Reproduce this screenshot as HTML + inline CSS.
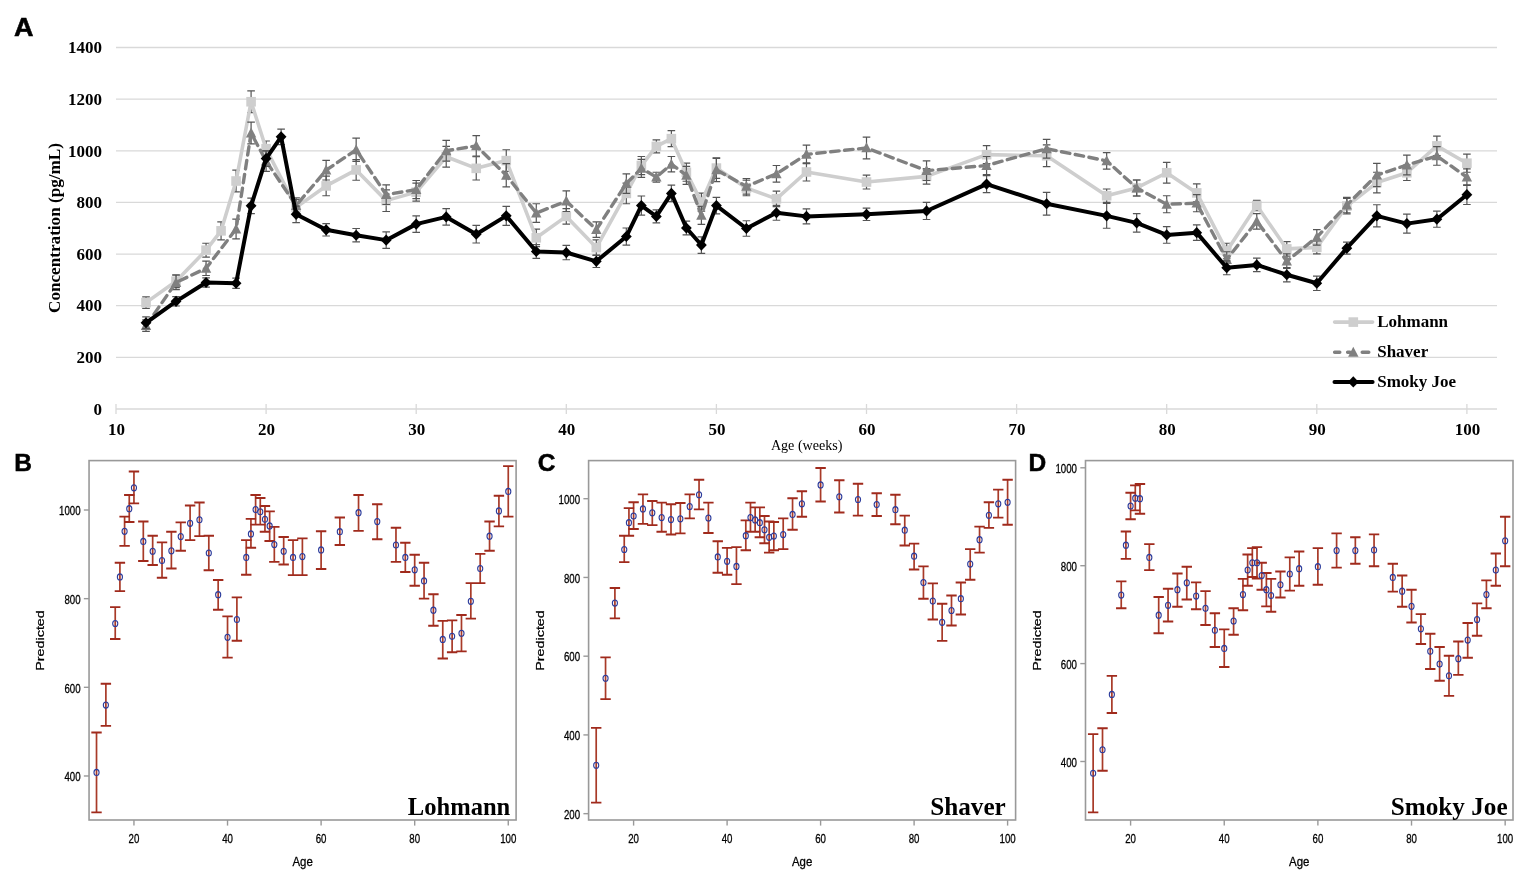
<!DOCTYPE html>
<html lang="en">
<head>
<meta charset="utf-8">
<title>Figure: Concentration by age for Lohmann, Shaver and Smoky Joe</title>
<style>
html,body{margin:0;padding:0;background:#ffffff;}
body{width:1535px;height:890px;overflow:hidden;}
svg{display:block;}
text{fill:#000;}
.sb{font-family:"Liberation Serif","Times New Roman",serif;font-weight:bold;font-size:17px;}
.sr{font-family:"Liberation Serif","Times New Roman",serif;font-size:14.1px;}
.pl{font-family:"Liberation Sans",Arial,sans-serif;font-weight:bold;font-size:24.5px;stroke:#000;stroke-width:0.5px;}
.tk{font-family:"Liberation Sans",Arial,sans-serif;font-size:13px;stroke:#000;stroke-width:0.3px;}
.nm{font-family:"Liberation Serif","Times New Roman",serif;font-weight:bold;font-size:24.6px;}
</style>
</head>
<body>
<svg width="1535" height="890" viewBox="0 0 1535 890">
<rect width="1535" height="890" fill="#ffffff"/>
<text class="pl" transform="translate(14.1,35.6) scale(1.08,1)" style="font-size:25px">A</text>
<g id="panelA">
<line x1="116" x2="1497" y1="357.36" y2="357.36" stroke="#d9d9d9" stroke-width="1.3"/>
<line x1="116" x2="1497" y1="305.72" y2="305.72" stroke="#d9d9d9" stroke-width="1.3"/>
<line x1="116" x2="1497" y1="254.08" y2="254.08" stroke="#d9d9d9" stroke-width="1.3"/>
<line x1="116" x2="1497" y1="202.44" y2="202.44" stroke="#d9d9d9" stroke-width="1.3"/>
<line x1="116" x2="1497" y1="150.8" y2="150.8" stroke="#d9d9d9" stroke-width="1.3"/>
<line x1="116" x2="1497" y1="99.16" y2="99.16" stroke="#d9d9d9" stroke-width="1.3"/>
<line x1="116" x2="1497" y1="47.52" y2="47.52" stroke="#d9d9d9" stroke-width="1.3"/>
<line x1="116" x2="1497" y1="409" y2="409" stroke="#d9d9d9" stroke-width="1.3"/>
<line x1="116" x2="116" y1="404" y2="414" stroke="#d9d9d9" stroke-width="1.3"/>
<line x1="266.1" x2="266.1" y1="404" y2="414" stroke="#d9d9d9" stroke-width="1.3"/>
<line x1="416.2" x2="416.2" y1="404" y2="414" stroke="#d9d9d9" stroke-width="1.3"/>
<line x1="566.3" x2="566.3" y1="404" y2="414" stroke="#d9d9d9" stroke-width="1.3"/>
<line x1="716.4" x2="716.4" y1="404" y2="414" stroke="#d9d9d9" stroke-width="1.3"/>
<line x1="866.5" x2="866.5" y1="404" y2="414" stroke="#d9d9d9" stroke-width="1.3"/>
<line x1="1016.6" x2="1016.6" y1="404" y2="414" stroke="#d9d9d9" stroke-width="1.3"/>
<line x1="1166.7" x2="1166.7" y1="404" y2="414" stroke="#d9d9d9" stroke-width="1.3"/>
<line x1="1316.8" x2="1316.8" y1="404" y2="414" stroke="#d9d9d9" stroke-width="1.3"/>
<line x1="1466.9" x2="1466.9" y1="404" y2="414" stroke="#d9d9d9" stroke-width="1.3"/>
<text class="sb" x="102" y="414.7" text-anchor="end">0</text>
<text class="sb" x="102" y="363.06" text-anchor="end">200</text>
<text class="sb" x="102" y="311.42" text-anchor="end">400</text>
<text class="sb" x="102" y="259.78" text-anchor="end">600</text>
<text class="sb" x="102" y="208.14" text-anchor="end">800</text>
<text class="sb" x="102" y="156.5" text-anchor="end">1000</text>
<text class="sb" x="102" y="104.86" text-anchor="end">1200</text>
<text class="sb" x="102" y="53.22" text-anchor="end">1400</text>
<text class="sb" x="116.5" y="435" text-anchor="middle">10</text>
<text class="sb" x="266.6" y="435" text-anchor="middle">20</text>
<text class="sb" x="416.7" y="435" text-anchor="middle">30</text>
<text class="sb" x="566.8" y="435" text-anchor="middle">40</text>
<text class="sb" x="716.9" y="435" text-anchor="middle">50</text>
<text class="sb" x="867" y="435" text-anchor="middle">60</text>
<text class="sb" x="1017.1" y="435" text-anchor="middle">70</text>
<text class="sb" x="1167.2" y="435" text-anchor="middle">80</text>
<text class="sb" x="1317.3" y="435" text-anchor="middle">90</text>
<text class="sb" x="1467.4" y="435" text-anchor="middle">100</text>
<text class="sb" transform="translate(59.6,228) rotate(-90)" text-anchor="middle" textLength="170" lengthAdjust="spacingAndGlyphs">Concentration (pg/mL)</text>
<text class="sr" x="806.7" y="449.7" text-anchor="middle">Age (weeks)</text>
<path d="M146.02 296.94V308.3M142.22 296.94H149.82M142.22 308.3H149.82M176.04 274.74V287.65M172.24 274.74H179.84M172.24 287.65H179.84M206.06 243.24V257.18M202.26 243.24H209.86M202.26 257.18H209.86M221.07 221.81V239.88M217.27 221.81H224.87M217.27 239.88H224.87M236.08 170.17V191.85M232.28 170.17H239.88M232.28 191.85H239.88M251.09 90.9V112.59M247.29 90.9H254.89M247.29 112.59H254.89M266.1 140.99V156.48M262.3 140.99H269.9M262.3 156.48H269.9M296.12 199.6V215.09M292.32 199.6H299.92M292.32 215.09H299.92M326.14 176.1V195.73M322.34 176.1H329.94M322.34 195.73H329.94M356.16 159.58V180.23M352.36 159.58H359.96M352.36 180.23H359.96M386.18 189.79V211.48M382.38 189.79H389.98M382.38 211.48H389.98M416.2 183.08V201.15M412.4 183.08H420M412.4 201.15H420M446.22 146.41V167.07M442.42 146.41H450.02M442.42 167.07H450.02M476.24 156.74V179.98M472.44 156.74H480.04M472.44 179.98H480.04M506.26 149.77V171.46M502.46 149.77H510.06M502.46 171.46H510.06M536.28 229.03V246.59M532.48 229.03H540.08M532.48 246.59H540.08M566.3 208.64V224.13M562.5 208.64H570.1M562.5 224.13H570.1M596.32 239.88V255.37M592.52 239.88H600.12M592.52 255.37H600.12M626.34 183.08V203.73M622.54 183.08H630.14M622.54 203.73H630.14M641.35 156.48V174.55M637.55 156.48H645.15M637.55 174.55H645.15M656.36 139.96V152.87M652.56 139.96H660.16M652.56 152.87H660.16M671.37 130.66V146.67M667.57 130.66H675.17M667.57 146.67H675.17M686.38 163.19V181.27M682.58 163.19H690.18M682.58 181.27H690.18M701.39 193.14V211.22M697.59 193.14H705.19M697.59 211.22H705.19M716.4 157.77V178.43M712.6 157.77H720.2M712.6 178.43H720.2M746.42 180.23V195.73M742.62 180.23H750.22M742.62 195.73H750.22M776.44 191.08V206.57M772.64 191.08H780.24M772.64 206.57H780.24M806.46 162.94V181.01M802.66 162.94H810.26M802.66 181.01H810.26M866.5 175.07V189.01M862.7 175.07H870.3M862.7 189.01H870.3M926.54 168.62V184.11M922.74 168.62H930.34M922.74 184.11H930.34M986.58 145.64V163.71M982.78 145.64H990.38M982.78 163.71H990.38M1046.62 144.86V166.55M1042.82 144.86H1050.42M1042.82 166.55H1050.42M1106.66 189.01V202.44M1102.86 189.01H1110.46M1102.86 202.44H1110.46M1136.68 179.98V195.99M1132.88 179.98H1140.48M1132.88 195.99H1140.48M1166.7 162.42V183.08M1162.9 162.42H1170.5M1162.9 183.08H1170.5M1196.72 183.85V201.92M1192.92 183.85H1200.52M1192.92 201.92H1200.52M1226.74 243.24V258.73M1222.94 243.24H1230.54M1222.94 258.73H1230.54M1256.76 200.37V210.7M1252.96 200.37H1260.56M1252.96 210.7H1260.56M1286.78 241.69V256.15M1282.98 241.69H1290.58M1282.98 256.15H1290.58M1316.8 240.91V253.82M1313 240.91H1320.6M1313 253.82H1320.6M1346.82 198.31V213.8M1343.02 198.31H1350.62M1343.02 213.8H1350.62M1376.84 172.23V192.89M1373.04 172.23H1380.64M1373.04 192.89H1380.64M1406.86 165V180.49M1403.06 165H1410.66M1403.06 180.49H1410.66M1436.88 136.08V155.71M1433.08 136.08H1440.68M1433.08 155.71H1440.68M1466.9 154.16V172.23M1463.1 154.16H1470.7M1463.1 172.23H1470.7" stroke="#555555" stroke-width="1.2" fill="none"/>
<polyline points="146.02,302.62 176.04,281.19 206.06,250.21 221.07,230.84 236.08,181.01 251.09,101.74 266.1,148.73 296.12,207.35 326.14,185.92 356.16,169.91 386.18,200.63 416.2,192.11 446.22,156.74 476.24,168.36 506.26,160.61 536.28,237.81 566.3,216.38 596.32,247.62 626.34,193.4 641.35,165.52 656.36,146.41 671.37,138.66 686.38,172.23 701.39,202.18 716.4,168.1 746.42,187.98 776.44,198.83 806.46,171.97 866.5,182.04 926.54,176.36 986.58,154.67 1046.62,155.71 1106.66,195.73 1136.68,187.98 1166.7,172.75 1196.72,192.89 1226.74,250.98 1256.76,205.54 1286.78,248.92 1316.8,247.37 1346.82,206.05 1376.84,182.56 1406.86,172.75 1436.88,145.89 1466.9,163.19" fill="none" stroke="#cecece" stroke-width="3.6" stroke-linejoin="round" stroke-linecap="round"/>
<rect x="141.22" y="297.82" width="9.6" height="9.6" fill="#cecece"/>
<rect x="171.24" y="276.39" width="9.6" height="9.6" fill="#cecece"/>
<rect x="201.26" y="245.41" width="9.6" height="9.6" fill="#cecece"/>
<rect x="216.27" y="226.04" width="9.6" height="9.6" fill="#cecece"/>
<rect x="231.28" y="176.21" width="9.6" height="9.6" fill="#cecece"/>
<rect x="246.29" y="96.94" width="9.6" height="9.6" fill="#cecece"/>
<rect x="261.3" y="143.93" width="9.6" height="9.6" fill="#cecece"/>
<rect x="291.32" y="202.55" width="9.6" height="9.6" fill="#cecece"/>
<rect x="321.34" y="181.12" width="9.6" height="9.6" fill="#cecece"/>
<rect x="351.36" y="165.11" width="9.6" height="9.6" fill="#cecece"/>
<rect x="381.38" y="195.83" width="9.6" height="9.6" fill="#cecece"/>
<rect x="411.4" y="187.31" width="9.6" height="9.6" fill="#cecece"/>
<rect x="441.42" y="151.94" width="9.6" height="9.6" fill="#cecece"/>
<rect x="471.44" y="163.56" width="9.6" height="9.6" fill="#cecece"/>
<rect x="501.46" y="155.81" width="9.6" height="9.6" fill="#cecece"/>
<rect x="531.48" y="233.01" width="9.6" height="9.6" fill="#cecece"/>
<rect x="561.5" y="211.58" width="9.6" height="9.6" fill="#cecece"/>
<rect x="591.52" y="242.82" width="9.6" height="9.6" fill="#cecece"/>
<rect x="621.54" y="188.6" width="9.6" height="9.6" fill="#cecece"/>
<rect x="636.55" y="160.72" width="9.6" height="9.6" fill="#cecece"/>
<rect x="651.56" y="141.61" width="9.6" height="9.6" fill="#cecece"/>
<rect x="666.57" y="133.86" width="9.6" height="9.6" fill="#cecece"/>
<rect x="681.58" y="167.43" width="9.6" height="9.6" fill="#cecece"/>
<rect x="696.59" y="197.38" width="9.6" height="9.6" fill="#cecece"/>
<rect x="711.6" y="163.3" width="9.6" height="9.6" fill="#cecece"/>
<rect x="741.62" y="183.18" width="9.6" height="9.6" fill="#cecece"/>
<rect x="771.64" y="194.03" width="9.6" height="9.6" fill="#cecece"/>
<rect x="801.66" y="167.17" width="9.6" height="9.6" fill="#cecece"/>
<rect x="861.7" y="177.24" width="9.6" height="9.6" fill="#cecece"/>
<rect x="921.74" y="171.56" width="9.6" height="9.6" fill="#cecece"/>
<rect x="981.78" y="149.87" width="9.6" height="9.6" fill="#cecece"/>
<rect x="1041.82" y="150.91" width="9.6" height="9.6" fill="#cecece"/>
<rect x="1101.86" y="190.93" width="9.6" height="9.6" fill="#cecece"/>
<rect x="1131.88" y="183.18" width="9.6" height="9.6" fill="#cecece"/>
<rect x="1161.9" y="167.95" width="9.6" height="9.6" fill="#cecece"/>
<rect x="1191.92" y="188.09" width="9.6" height="9.6" fill="#cecece"/>
<rect x="1221.94" y="246.18" width="9.6" height="9.6" fill="#cecece"/>
<rect x="1251.96" y="200.74" width="9.6" height="9.6" fill="#cecece"/>
<rect x="1281.98" y="244.12" width="9.6" height="9.6" fill="#cecece"/>
<rect x="1312" y="242.57" width="9.6" height="9.6" fill="#cecece"/>
<rect x="1342.02" y="201.25" width="9.6" height="9.6" fill="#cecece"/>
<rect x="1372.04" y="177.76" width="9.6" height="9.6" fill="#cecece"/>
<rect x="1402.06" y="167.95" width="9.6" height="9.6" fill="#cecece"/>
<rect x="1432.08" y="141.09" width="9.6" height="9.6" fill="#cecece"/>
<rect x="1462.1" y="158.39" width="9.6" height="9.6" fill="#cecece"/>
<path d="M146.02 319.92V331.28M142.22 319.92H149.82M142.22 331.28H149.82M176.04 275.25V289.71M172.24 275.25H179.84M172.24 289.71H179.84M206.06 261.05V275.51M202.26 261.05H209.86M202.26 275.51H209.86M236.08 219.22V238.85M232.28 219.22H239.88M232.28 238.85H239.88M251.09 122.14V143.83M247.29 122.14H254.89M247.29 143.83H254.89M266.1 150.8V171.46M262.3 150.8H269.9M262.3 171.46H269.9M296.12 197.79V213.28M292.32 197.79H299.92M292.32 213.28H299.92M326.14 160.35V179.98M322.34 160.35H329.94M322.34 179.98H329.94M356.16 138.15V161.39M352.36 138.15H359.96M352.36 161.39H359.96M386.18 184.88V204.51M382.38 184.88H389.98M382.38 204.51H389.98M416.2 180.49V198.57M412.4 180.49H420M412.4 198.57H420M446.22 140.47V161.13M442.42 140.47H450.02M442.42 161.13H450.02M476.24 135.57V156.22M472.44 135.57H480.04M472.44 156.22H480.04M506.26 163.71V186.95M502.46 163.71H510.06M502.46 186.95H510.06M536.28 203.73V222.32M532.48 203.73H540.08M532.48 222.32H540.08M566.3 190.82V211.48M562.5 190.82H570.1M562.5 211.48H570.1M596.32 221.81V237.3M592.52 221.81H600.12M592.52 237.3H600.12M626.34 173.78V193.4M622.54 173.78H630.14M622.54 193.4H630.14M641.35 159.32V177.39M637.55 159.32H645.15M637.55 177.39H645.15M656.36 172.23V182.04M652.56 172.23H660.16M652.56 182.04H660.16M671.37 156.48V171.97M667.57 156.48H675.17M667.57 171.97H675.17M686.38 166.29V184.37M682.58 166.29H690.18M682.58 184.37H690.18M701.39 206.31V224.39M697.59 206.31H705.19M697.59 224.39H705.19M716.4 158.29V181.53M712.6 158.29H720.2M712.6 181.53H720.2M746.42 178.69V194.18M742.62 178.69H750.22M742.62 194.18H750.22M776.44 165.52V182.04M772.64 165.52H780.24M772.64 182.04H780.24M806.46 145.12V163.71M802.66 145.12H810.26M802.66 163.71H810.26M866.5 137.12V158.8M862.7 137.12H870.3M862.7 158.8H870.3M926.54 160.87V180.49M922.74 160.87H930.34M922.74 180.49H930.34M986.58 156.48V174.55M982.78 156.48H990.38M982.78 174.55H990.38M1046.62 139.44V158.03M1042.82 139.44H1050.42M1042.82 158.03H1050.42M1106.66 152.61V169.13M1102.86 152.61H1110.46M1102.86 169.13H1110.46M1136.68 179.98V195.99M1132.88 179.98H1140.48M1132.88 195.99H1140.48M1166.7 195.73V212.77M1162.9 195.73H1170.5M1162.9 212.77H1170.5M1196.72 194.69V211.74M1192.92 194.69H1200.52M1192.92 211.74H1200.52M1226.74 251.76V267.25M1222.94 251.76H1230.54M1222.94 267.25H1230.54M1256.76 213.54V229.03M1252.96 213.54H1260.56M1252.96 229.03H1260.56M1286.78 253.82V268.28M1282.98 253.82H1290.58M1282.98 268.28H1290.58M1316.8 229.55V245.04M1313 229.55H1320.6M1313 245.04H1320.6M1346.82 197.28V212.77M1343.02 197.28H1350.62M1343.02 212.77H1350.62M1376.84 163.45V186.69M1373.04 163.45H1380.64M1373.04 186.69H1380.64M1406.86 155.19V174.81M1403.06 155.19H1410.66M1403.06 174.81H1410.66M1436.88 146.67V165.26M1433.08 146.67H1440.68M1433.08 165.26H1440.68M1466.9 168.87V185.4M1463.1 168.87H1470.7M1463.1 185.4H1470.7" stroke="#555555" stroke-width="1.2" fill="none"/>
<polyline points="146.02,325.6 176.04,282.48 206.06,268.28 236.08,229.03 251.09,132.98 266.1,161.13 296.12,205.54 326.14,170.17 356.16,149.77 386.18,194.69 416.2,189.53 446.22,150.8 476.24,145.89 506.26,175.33 536.28,213.03 566.3,201.15 596.32,229.55 626.34,183.59 641.35,168.36 656.36,177.14 671.37,164.23 686.38,175.33 701.39,215.35 716.4,169.91 746.42,186.43 776.44,173.78 806.46,154.41 866.5,147.96 926.54,170.68 986.58,165.52 1046.62,148.73 1106.66,160.87 1136.68,187.98 1166.7,204.25 1196.72,203.21 1226.74,259.5 1256.76,221.29 1286.78,261.05 1316.8,237.3 1346.82,205.02 1376.84,175.07 1406.86,165 1436.88,155.96 1466.9,177.14" fill="none" stroke="#808080" stroke-width="3.4" stroke-linejoin="round" stroke-linecap="round" stroke-dasharray="8.5 5.5"/>
<path d="M146.02 320L151.22 330L140.82 330Z" fill="#808080"/>
<path d="M176.04 276.88L181.24 286.88L170.84 286.88Z" fill="#808080"/>
<path d="M206.06 262.68L211.26 272.68L200.86 272.68Z" fill="#808080"/>
<path d="M236.08 223.43L241.28 233.43L230.88 233.43Z" fill="#808080"/>
<path d="M251.09 127.38L256.29 137.38L245.89 137.38Z" fill="#808080"/>
<path d="M266.1 155.53L271.3 165.53L260.9 165.53Z" fill="#808080"/>
<path d="M296.12 199.94L301.32 209.94L290.92 209.94Z" fill="#808080"/>
<path d="M326.14 164.57L331.34 174.57L320.94 174.57Z" fill="#808080"/>
<path d="M356.16 144.17L361.36 154.17L350.96 154.17Z" fill="#808080"/>
<path d="M386.18 189.09L391.38 199.09L380.98 199.09Z" fill="#808080"/>
<path d="M416.2 183.93L421.4 193.93L411 193.93Z" fill="#808080"/>
<path d="M446.22 145.2L451.42 155.2L441.02 155.2Z" fill="#808080"/>
<path d="M476.24 140.29L481.44 150.29L471.04 150.29Z" fill="#808080"/>
<path d="M506.26 169.73L511.46 179.73L501.06 179.73Z" fill="#808080"/>
<path d="M536.28 207.43L541.48 217.43L531.08 217.43Z" fill="#808080"/>
<path d="M566.3 195.55L571.5 205.55L561.1 205.55Z" fill="#808080"/>
<path d="M596.32 223.95L601.52 233.95L591.12 233.95Z" fill="#808080"/>
<path d="M626.34 177.99L631.54 187.99L621.14 187.99Z" fill="#808080"/>
<path d="M641.35 162.76L646.55 172.76L636.15 172.76Z" fill="#808080"/>
<path d="M656.36 171.54L661.56 181.54L651.16 181.54Z" fill="#808080"/>
<path d="M671.37 158.63L676.57 168.63L666.17 168.63Z" fill="#808080"/>
<path d="M686.38 169.73L691.58 179.73L681.18 179.73Z" fill="#808080"/>
<path d="M701.39 209.75L706.59 219.75L696.19 219.75Z" fill="#808080"/>
<path d="M716.4 164.31L721.6 174.31L711.2 174.31Z" fill="#808080"/>
<path d="M746.42 180.83L751.62 190.83L741.22 190.83Z" fill="#808080"/>
<path d="M776.44 168.18L781.64 178.18L771.24 178.18Z" fill="#808080"/>
<path d="M806.46 148.81L811.66 158.81L801.26 158.81Z" fill="#808080"/>
<path d="M866.5 142.36L871.7 152.36L861.3 152.36Z" fill="#808080"/>
<path d="M926.54 165.08L931.74 175.08L921.34 175.08Z" fill="#808080"/>
<path d="M986.58 159.92L991.78 169.92L981.38 169.92Z" fill="#808080"/>
<path d="M1046.62 143.13L1051.82 153.13L1041.42 153.13Z" fill="#808080"/>
<path d="M1106.66 155.27L1111.86 165.27L1101.46 165.27Z" fill="#808080"/>
<path d="M1136.68 182.38L1141.88 192.38L1131.48 192.38Z" fill="#808080"/>
<path d="M1166.7 198.65L1171.9 208.65L1161.5 208.65Z" fill="#808080"/>
<path d="M1196.72 197.61L1201.92 207.61L1191.52 207.61Z" fill="#808080"/>
<path d="M1226.74 253.9L1231.94 263.9L1221.54 263.9Z" fill="#808080"/>
<path d="M1256.76 215.69L1261.96 225.69L1251.56 225.69Z" fill="#808080"/>
<path d="M1286.78 255.45L1291.98 265.45L1281.58 265.45Z" fill="#808080"/>
<path d="M1316.8 231.7L1322 241.7L1311.6 241.7Z" fill="#808080"/>
<path d="M1346.82 199.42L1352.02 209.42L1341.62 209.42Z" fill="#808080"/>
<path d="M1376.84 169.47L1382.04 179.47L1371.64 179.47Z" fill="#808080"/>
<path d="M1406.86 159.4L1412.06 169.4L1401.66 169.4Z" fill="#808080"/>
<path d="M1436.88 150.36L1442.08 160.36L1431.68 160.36Z" fill="#808080"/>
<path d="M1466.9 171.54L1472.1 181.54L1461.7 181.54Z" fill="#808080"/>
<path d="M146.02 316.82V328.7M142.22 316.82H149.82M142.22 328.7H149.82M176.04 296.68V305.98M172.24 296.68H179.84M172.24 305.98H179.84M206.06 277.83V287.13M202.26 277.83H209.86M202.26 287.13H209.86M236.08 278.09V288.42M232.28 278.09H239.88M232.28 288.42H239.88M251.09 198.05V213.54M247.29 198.05H254.89M247.29 213.54H254.89M266.1 150.8V166.29M262.3 150.8H269.9M262.3 166.29H269.9M281.11 129.11V144.6M277.31 129.11H284.91M277.31 144.6H284.91M296.12 206.05V222.58M292.32 206.05H299.92M292.32 222.58H299.92M326.14 223.61V236.01M322.34 223.61H329.94M322.34 236.01H329.94M356.16 228.52V241.94M352.36 228.52H359.96M352.36 241.94H359.96M386.18 231.87V248.4M382.38 231.87H389.98M382.38 248.4H389.98M416.2 215.87V232.39M412.4 215.87H420M412.4 232.39H420M446.22 208.64V225.16M442.42 208.64H450.02M442.42 225.16H450.02M476.24 225.42V242.98M472.44 225.42H480.04M472.44 242.98H480.04M506.26 206.31V225.42M502.46 206.31H510.06M502.46 225.42H510.06M536.28 244.53V258.47M532.48 244.53H540.08M532.48 258.47H540.08M566.3 245.3V259.76M562.5 245.3H570.1M562.5 259.76H570.1M596.32 255.11V267.51M592.52 255.11H600.12M592.52 267.51H600.12M626.34 228V245.04M622.54 228H630.14M622.54 245.04H630.14M641.35 195.99V215.09M637.55 195.99H645.15M637.55 215.09H645.15M656.36 209.93V222.84M652.56 209.93H660.16M652.56 222.84H660.16M671.37 185.14V201.67M667.57 185.14H675.17M667.57 201.67H675.17M686.38 221.03V234.97M682.58 221.03H690.18M682.58 234.97H690.18M701.39 236.78V253.31M697.59 236.78H705.19M697.59 253.31H705.19M716.4 197.28V213.8M712.6 197.28H720.2M712.6 213.8H720.2M746.42 220.77V236.26M742.62 220.77H750.22M742.62 236.26H750.22M776.44 205.28V220.26M772.64 205.28H780.24M772.64 220.26H780.24M806.46 208.9V223.87M802.66 208.9H810.26M802.66 223.87H810.26M866.5 208.12V220.51M862.7 208.12H870.3M862.7 220.51H870.3M926.54 202.44V219.48M922.74 202.44H930.34M922.74 219.48H930.34M986.58 175.59V192.63M982.78 175.59H990.38M982.78 192.63H990.38M1046.62 192.37V215.09M1042.82 192.37H1050.42M1042.82 215.09H1050.42M1106.66 203.47V228.26M1102.86 203.47H1110.46M1102.86 228.26H1110.46M1136.68 213.54V232.13M1132.88 213.54H1140.48M1132.88 232.13H1140.48M1166.7 226.71V243.24M1162.9 226.71H1170.5M1162.9 243.24H1170.5M1196.72 224.9V240.4M1192.92 224.9H1200.52M1192.92 240.4H1200.52M1226.74 260.79V274.74M1222.94 260.79H1230.54M1222.94 274.74H1230.54M1256.76 258.21V271.64M1252.96 258.21H1260.56M1252.96 271.64H1260.56M1286.78 267.51V281.97M1282.98 267.51H1290.58M1282.98 281.97H1290.58M1316.8 276.03V290.49M1313 276.03H1320.6M1313 290.49H1320.6M1346.82 242.2V254.08M1343.02 242.2H1350.62M1343.02 254.08H1350.62M1376.84 204.76V226.97M1373.04 204.76H1380.64M1373.04 226.97H1380.64M1406.86 214.06V233.17M1403.06 214.06H1410.66M1403.06 233.17H1410.66M1436.88 211.22V227.23M1433.08 211.22H1440.68M1433.08 227.23H1440.68M1466.9 184.88V204.51M1463.1 184.88H1470.7M1463.1 204.51H1470.7" stroke="#555555" stroke-width="1.2" fill="none"/>
<polyline points="146.02,322.76 176.04,301.33 206.06,282.48 236.08,283.26 251.09,205.8 266.1,158.55 281.11,136.86 296.12,214.32 326.14,229.81 356.16,235.23 386.18,240.14 416.2,224.13 446.22,216.9 476.24,234.2 506.26,215.87 536.28,251.5 566.3,252.53 596.32,261.31 626.34,236.52 641.35,205.54 656.36,216.38 671.37,193.4 686.38,228 701.39,245.04 716.4,205.54 746.42,228.52 776.44,212.77 806.46,216.38 866.5,214.32 926.54,210.96 986.58,184.11 1046.62,203.73 1106.66,215.87 1136.68,222.84 1166.7,234.97 1196.72,232.65 1226.74,267.76 1256.76,264.92 1286.78,274.74 1316.8,283.26 1346.82,248.14 1376.84,215.87 1406.86,223.61 1436.88,219.22 1466.9,194.69" fill="none" stroke="#000000" stroke-width="4.0" stroke-linejoin="round" stroke-linecap="round"/>
<path d="M146.02 317.16L151.42 322.76L146.02 328.36L140.62 322.76Z" fill="#000000"/>
<path d="M176.04 295.73L181.44 301.33L176.04 306.93L170.64 301.33Z" fill="#000000"/>
<path d="M206.06 276.88L211.46 282.48L206.06 288.08L200.66 282.48Z" fill="#000000"/>
<path d="M236.08 277.66L241.48 283.26L236.08 288.86L230.68 283.26Z" fill="#000000"/>
<path d="M251.09 200.2L256.49 205.8L251.09 211.4L245.69 205.8Z" fill="#000000"/>
<path d="M266.1 152.95L271.5 158.55L266.1 164.15L260.7 158.55Z" fill="#000000"/>
<path d="M281.11 131.26L286.51 136.86L281.11 142.46L275.71 136.86Z" fill="#000000"/>
<path d="M296.12 208.72L301.52 214.32L296.12 219.92L290.72 214.32Z" fill="#000000"/>
<path d="M326.14 224.21L331.54 229.81L326.14 235.41L320.74 229.81Z" fill="#000000"/>
<path d="M356.16 229.63L361.56 235.23L356.16 240.83L350.76 235.23Z" fill="#000000"/>
<path d="M386.18 234.54L391.58 240.14L386.18 245.74L380.78 240.14Z" fill="#000000"/>
<path d="M416.2 218.53L421.6 224.13L416.2 229.73L410.8 224.13Z" fill="#000000"/>
<path d="M446.22 211.3L451.62 216.9L446.22 222.5L440.82 216.9Z" fill="#000000"/>
<path d="M476.24 228.6L481.64 234.2L476.24 239.8L470.84 234.2Z" fill="#000000"/>
<path d="M506.26 210.27L511.66 215.87L506.26 221.47L500.86 215.87Z" fill="#000000"/>
<path d="M536.28 245.9L541.68 251.5L536.28 257.1L530.88 251.5Z" fill="#000000"/>
<path d="M566.3 246.93L571.7 252.53L566.3 258.13L560.9 252.53Z" fill="#000000"/>
<path d="M596.32 255.71L601.72 261.31L596.32 266.91L590.92 261.31Z" fill="#000000"/>
<path d="M626.34 230.92L631.74 236.52L626.34 242.12L620.94 236.52Z" fill="#000000"/>
<path d="M641.35 199.94L646.75 205.54L641.35 211.14L635.95 205.54Z" fill="#000000"/>
<path d="M656.36 210.78L661.76 216.38L656.36 221.98L650.96 216.38Z" fill="#000000"/>
<path d="M671.37 187.8L676.77 193.4L671.37 199L665.97 193.4Z" fill="#000000"/>
<path d="M686.38 222.4L691.78 228L686.38 233.6L680.98 228Z" fill="#000000"/>
<path d="M701.39 239.44L706.79 245.04L701.39 250.64L695.99 245.04Z" fill="#000000"/>
<path d="M716.4 199.94L721.8 205.54L716.4 211.14L711 205.54Z" fill="#000000"/>
<path d="M746.42 222.92L751.82 228.52L746.42 234.12L741.02 228.52Z" fill="#000000"/>
<path d="M776.44 207.17L781.84 212.77L776.44 218.37L771.04 212.77Z" fill="#000000"/>
<path d="M806.46 210.78L811.86 216.38L806.46 221.98L801.06 216.38Z" fill="#000000"/>
<path d="M866.5 208.72L871.9 214.32L866.5 219.92L861.1 214.32Z" fill="#000000"/>
<path d="M926.54 205.36L931.94 210.96L926.54 216.56L921.14 210.96Z" fill="#000000"/>
<path d="M986.58 178.51L991.98 184.11L986.58 189.71L981.18 184.11Z" fill="#000000"/>
<path d="M1046.62 198.13L1052.02 203.73L1046.62 209.33L1041.22 203.73Z" fill="#000000"/>
<path d="M1106.66 210.27L1112.06 215.87L1106.66 221.47L1101.26 215.87Z" fill="#000000"/>
<path d="M1136.68 217.24L1142.08 222.84L1136.68 228.44L1131.28 222.84Z" fill="#000000"/>
<path d="M1166.7 229.37L1172.1 234.97L1166.7 240.57L1161.3 234.97Z" fill="#000000"/>
<path d="M1196.72 227.05L1202.12 232.65L1196.72 238.25L1191.32 232.65Z" fill="#000000"/>
<path d="M1226.74 262.16L1232.14 267.76L1226.74 273.36L1221.34 267.76Z" fill="#000000"/>
<path d="M1256.76 259.32L1262.16 264.92L1256.76 270.52L1251.36 264.92Z" fill="#000000"/>
<path d="M1286.78 269.14L1292.18 274.74L1286.78 280.34L1281.38 274.74Z" fill="#000000"/>
<path d="M1316.8 277.66L1322.2 283.26L1316.8 288.86L1311.4 283.26Z" fill="#000000"/>
<path d="M1346.82 242.54L1352.22 248.14L1346.82 253.74L1341.42 248.14Z" fill="#000000"/>
<path d="M1376.84 210.27L1382.24 215.87L1376.84 221.47L1371.44 215.87Z" fill="#000000"/>
<path d="M1406.86 218.01L1412.26 223.61L1406.86 229.21L1401.46 223.61Z" fill="#000000"/>
<path d="M1436.88 213.62L1442.28 219.22L1436.88 224.82L1431.48 219.22Z" fill="#000000"/>
<path d="M1466.9 189.09L1472.3 194.69L1466.9 200.29L1461.5 194.69Z" fill="#000000"/>
<line x1="1334.6" x2="1372.6" y1="322.1" y2="322.1" stroke="#cecece" stroke-width="3.6" stroke-linecap="round"/>
<rect x="1348.5" y="317.3" width="9.6" height="9.6" fill="#cecece"/>
<text class="sb" x="1377.2" y="327.3">Lohmann</text>
<path d="M1334.6 352.3H1339.8M1347.6 352.3H1350M1362.2 352.3H1368.8" stroke="#808080" stroke-width="3.4" stroke-linecap="round" fill="none"/>
<path d="M1353.3 346.7L1358.5 356.7L1348.1 356.7Z" fill="#808080"/>
<text class="sb" x="1377.2" y="357.2">Shaver</text>
<line x1="1334.5" x2="1372.6" y1="381.9" y2="381.9" stroke="#000000" stroke-width="4" stroke-linecap="round"/>
<path d="M1353.3 376.3L1358.7 381.9L1353.3 387.5L1347.9 381.9Z" fill="#000000"/>
<text class="sb" x="1377.2" y="387.0">Smoky Joe</text>
</g>
<g id="panelB">
<text class="pl" transform="translate(14.3,471) scale(1.0,1)">B</text>
<rect x="89.05" y="460.6" width="427.05" height="359.4" fill="none" stroke="#999999" stroke-width="1.6"/>
<line x1="83.85" x2="89.05" y1="775.98" y2="775.98" stroke="#999999" stroke-width="1.4"/>
<text class="tk" transform="translate(80.55,781.18) scale(0.745,1)" text-anchor="end">400</text>
<line x1="83.85" x2="89.05" y1="687.32" y2="687.32" stroke="#999999" stroke-width="1.4"/>
<text class="tk" transform="translate(80.55,692.52) scale(0.745,1)" text-anchor="end">600</text>
<line x1="83.85" x2="89.05" y1="598.66" y2="598.66" stroke="#999999" stroke-width="1.4"/>
<text class="tk" transform="translate(80.55,603.86) scale(0.745,1)" text-anchor="end">800</text>
<line x1="83.85" x2="89.05" y1="510" y2="510" stroke="#999999" stroke-width="1.4"/>
<text class="tk" transform="translate(80.55,515.2) scale(0.745,1)" text-anchor="end">1000</text>
<line x1="133.95" x2="133.95" y1="820" y2="825.6" stroke="#999999" stroke-width="1.4"/>
<text class="tk" transform="translate(133.95,842.9) scale(0.745,1)" text-anchor="middle">20</text>
<line x1="227.53" x2="227.53" y1="820" y2="825.6" stroke="#999999" stroke-width="1.4"/>
<text class="tk" transform="translate(227.53,842.9) scale(0.745,1)" text-anchor="middle">40</text>
<line x1="321.11" x2="321.11" y1="820" y2="825.6" stroke="#999999" stroke-width="1.4"/>
<text class="tk" transform="translate(321.11,842.9) scale(0.745,1)" text-anchor="middle">60</text>
<line x1="414.69" x2="414.69" y1="820" y2="825.6" stroke="#999999" stroke-width="1.4"/>
<text class="tk" transform="translate(414.69,842.9) scale(0.745,1)" text-anchor="middle">80</text>
<line x1="508.27" x2="508.27" y1="820" y2="825.6" stroke="#999999" stroke-width="1.4"/>
<text class="tk" transform="translate(508.27,842.9) scale(0.745,1)" text-anchor="middle">100</text>
<text class="tk" style="font-size:13px" transform="translate(302.57,866.2) scale(0.88,1)" text-anchor="middle">Age</text>
<text class="tk" style="font-size:14.4px" transform="translate(44.2,640.5) rotate(-90) scale(1,0.76)" text-anchor="middle">Predicted</text>
<path d="M96.52 732.54V812.33M105.88 683.77V725.89M115.23 607.08V639M119.91 562.75V591.12M124.59 516.65V545.91M129.27 494.93V521.97M133.95 471.43V503.35M143.31 521.53V560.98M152.67 535.71V564.97M162.02 542.36V577.82M171.38 531.72V568.52M180.74 522.41V550.78M190.1 505.57V540.14M199.46 502.46V536.15M208.81 535.71V570.29M218.17 580.04V609.74M227.53 616.39V657.62M236.89 597.33V640.77M246.25 540.14V574.72M250.93 518.87V547.68M255.6 494.93V524.63M260.28 498.03V524.63M264.96 506.01V531.72M269.64 511.33V541.03M274.32 526.85V561.87M283.68 537.04V564.53M293.04 540.14V575.17M302.39 538.37V575.17M321.11 531.28V568.96M339.83 517.54V545.02M358.54 494.93V530.84M377.26 504.24V539.26M395.97 527.73V561.87M405.33 542.8V572.06M414.69 554.77V585.8M424.05 562.75V598.66M433.41 594.23V625.7M442.76 620.83V658.51M452.12 620.38V652.3M461.48 615.06V651.41M470.84 583.14V618.61M480.2 553.89V583.14M489.55 521.53V550.78M498.91 495.81V526.4M508.27 466.11V516.65" stroke="#a83a28" stroke-width="1.7" fill="none"/>
<path d="M91.32 732.54H101.72M91.32 812.33H101.72M100.68 683.77H111.08M100.68 725.89H111.08M110.03 607.08H120.43M110.03 639H120.43M114.71 562.75H125.11M114.71 591.12H125.11M119.39 516.65H129.79M119.39 545.91H129.79M124.07 494.93H134.47M124.07 521.97H134.47M128.75 471.43H139.15M128.75 503.35H139.15M138.11 521.53H148.51M138.11 560.98H148.51M147.47 535.71H157.87M147.47 564.97H157.87M156.82 542.36H167.22M156.82 577.82H167.22M166.18 531.72H176.58M166.18 568.52H176.58M175.54 522.41H185.94M175.54 550.78H185.94M184.9 505.57H195.3M184.9 540.14H195.3M194.26 502.46H204.66M194.26 536.15H204.66M203.61 535.71H214.01M203.61 570.29H214.01M212.97 580.04H223.37M212.97 609.74H223.37M222.33 616.39H232.73M222.33 657.62H232.73M231.69 597.33H242.09M231.69 640.77H242.09M241.05 540.14H251.45M241.05 574.72H251.45M245.73 518.87H256.12M245.73 547.68H256.12M250.4 494.93H260.8M250.4 524.63H260.8M255.08 498.03H265.48M255.08 524.63H265.48M259.76 506.01H270.16M259.76 531.72H270.16M264.44 511.33H274.84M264.44 541.03H274.84M269.12 526.85H279.52M269.12 561.87H279.52M278.48 537.04H288.88M278.48 564.53H288.88M287.84 540.14H298.24M287.84 575.17H298.24M297.19 538.37H307.59M297.19 575.17H307.59M315.91 531.28H326.31M315.91 568.96H326.31M334.63 517.54H345.03M334.63 545.02H345.03M353.34 494.93H363.74M353.34 530.84H363.74M372.06 504.24H382.46M372.06 539.26H382.46M390.77 527.73H401.17M390.77 561.87H401.17M400.13 542.8H410.53M400.13 572.06H410.53M409.49 554.77H419.89M409.49 585.8H419.89M418.85 562.75H429.25M418.85 598.66H429.25M428.21 594.23H438.61M428.21 625.7H438.61M437.56 620.83H447.96M437.56 658.51H447.96M446.92 620.38H457.32M446.92 652.3H457.32M456.28 615.06H466.68M456.28 651.41H466.68M465.64 583.14H476.04M465.64 618.61H476.04M475 553.89H485.4M475 583.14H485.4M484.35 521.53H494.75M484.35 550.78H494.75M493.71 495.81H504.11M493.71 526.4H504.11M503.07 466.11H513.47M503.07 516.65H513.47" stroke="#a02a1c" stroke-width="1.9" fill="none"/>
<ellipse cx="96.52" cy="772.43" rx="2.55" ry="3.05" fill="none" stroke="#2c3c9c" stroke-width="1.1"/>
<ellipse cx="105.88" cy="705.05" rx="2.55" ry="3.05" fill="none" stroke="#2c3c9c" stroke-width="1.1"/>
<ellipse cx="115.23" cy="623.48" rx="2.55" ry="3.05" fill="none" stroke="#2c3c9c" stroke-width="1.1"/>
<ellipse cx="119.91" cy="576.94" rx="2.55" ry="3.05" fill="none" stroke="#2c3c9c" stroke-width="1.1"/>
<ellipse cx="124.59" cy="531.28" rx="2.55" ry="3.05" fill="none" stroke="#2c3c9c" stroke-width="1.1"/>
<ellipse cx="129.27" cy="508.67" rx="2.55" ry="3.05" fill="none" stroke="#2c3c9c" stroke-width="1.1"/>
<ellipse cx="133.95" cy="487.83" rx="2.55" ry="3.05" fill="none" stroke="#2c3c9c" stroke-width="1.1"/>
<ellipse cx="143.31" cy="541.47" rx="2.55" ry="3.05" fill="none" stroke="#2c3c9c" stroke-width="1.1"/>
<ellipse cx="152.67" cy="551.23" rx="2.55" ry="3.05" fill="none" stroke="#2c3c9c" stroke-width="1.1"/>
<ellipse cx="162.02" cy="560.54" rx="2.55" ry="3.05" fill="none" stroke="#2c3c9c" stroke-width="1.1"/>
<ellipse cx="171.38" cy="550.78" rx="2.55" ry="3.05" fill="none" stroke="#2c3c9c" stroke-width="1.1"/>
<ellipse cx="180.74" cy="536.6" rx="2.55" ry="3.05" fill="none" stroke="#2c3c9c" stroke-width="1.1"/>
<ellipse cx="190.1" cy="523.3" rx="2.55" ry="3.05" fill="none" stroke="#2c3c9c" stroke-width="1.1"/>
<ellipse cx="199.46" cy="519.75" rx="2.55" ry="3.05" fill="none" stroke="#2c3c9c" stroke-width="1.1"/>
<ellipse cx="208.81" cy="553" rx="2.55" ry="3.05" fill="none" stroke="#2c3c9c" stroke-width="1.1"/>
<ellipse cx="218.17" cy="594.67" rx="2.55" ry="3.05" fill="none" stroke="#2c3c9c" stroke-width="1.1"/>
<ellipse cx="227.53" cy="637.23" rx="2.55" ry="3.05" fill="none" stroke="#2c3c9c" stroke-width="1.1"/>
<ellipse cx="236.89" cy="619.5" rx="2.55" ry="3.05" fill="none" stroke="#2c3c9c" stroke-width="1.1"/>
<ellipse cx="246.25" cy="557.43" rx="2.55" ry="3.05" fill="none" stroke="#2c3c9c" stroke-width="1.1"/>
<ellipse cx="250.93" cy="533.94" rx="2.55" ry="3.05" fill="none" stroke="#2c3c9c" stroke-width="1.1"/>
<ellipse cx="255.6" cy="509.56" rx="2.55" ry="3.05" fill="none" stroke="#2c3c9c" stroke-width="1.1"/>
<ellipse cx="260.28" cy="511.77" rx="2.55" ry="3.05" fill="none" stroke="#2c3c9c" stroke-width="1.1"/>
<ellipse cx="264.96" cy="519.31" rx="2.55" ry="3.05" fill="none" stroke="#2c3c9c" stroke-width="1.1"/>
<ellipse cx="269.64" cy="525.96" rx="2.55" ry="3.05" fill="none" stroke="#2c3c9c" stroke-width="1.1"/>
<ellipse cx="274.32" cy="544.58" rx="2.55" ry="3.05" fill="none" stroke="#2c3c9c" stroke-width="1.1"/>
<ellipse cx="283.68" cy="551.23" rx="2.55" ry="3.05" fill="none" stroke="#2c3c9c" stroke-width="1.1"/>
<ellipse cx="293.04" cy="557.43" rx="2.55" ry="3.05" fill="none" stroke="#2c3c9c" stroke-width="1.1"/>
<ellipse cx="302.39" cy="556.55" rx="2.55" ry="3.05" fill="none" stroke="#2c3c9c" stroke-width="1.1"/>
<ellipse cx="321.11" cy="549.9" rx="2.55" ry="3.05" fill="none" stroke="#2c3c9c" stroke-width="1.1"/>
<ellipse cx="339.83" cy="531.72" rx="2.55" ry="3.05" fill="none" stroke="#2c3c9c" stroke-width="1.1"/>
<ellipse cx="358.54" cy="512.66" rx="2.55" ry="3.05" fill="none" stroke="#2c3c9c" stroke-width="1.1"/>
<ellipse cx="377.26" cy="521.53" rx="2.55" ry="3.05" fill="none" stroke="#2c3c9c" stroke-width="1.1"/>
<ellipse cx="395.97" cy="545.02" rx="2.55" ry="3.05" fill="none" stroke="#2c3c9c" stroke-width="1.1"/>
<ellipse cx="405.33" cy="557.43" rx="2.55" ry="3.05" fill="none" stroke="#2c3c9c" stroke-width="1.1"/>
<ellipse cx="414.69" cy="569.85" rx="2.55" ry="3.05" fill="none" stroke="#2c3c9c" stroke-width="1.1"/>
<ellipse cx="424.05" cy="580.93" rx="2.55" ry="3.05" fill="none" stroke="#2c3c9c" stroke-width="1.1"/>
<ellipse cx="433.41" cy="610.19" rx="2.55" ry="3.05" fill="none" stroke="#2c3c9c" stroke-width="1.1"/>
<ellipse cx="442.76" cy="639.44" rx="2.55" ry="3.05" fill="none" stroke="#2c3c9c" stroke-width="1.1"/>
<ellipse cx="452.12" cy="636.34" rx="2.55" ry="3.05" fill="none" stroke="#2c3c9c" stroke-width="1.1"/>
<ellipse cx="461.48" cy="633.24" rx="2.55" ry="3.05" fill="none" stroke="#2c3c9c" stroke-width="1.1"/>
<ellipse cx="470.84" cy="601.32" rx="2.55" ry="3.05" fill="none" stroke="#2c3c9c" stroke-width="1.1"/>
<ellipse cx="480.2" cy="568.52" rx="2.55" ry="3.05" fill="none" stroke="#2c3c9c" stroke-width="1.1"/>
<ellipse cx="489.55" cy="536.15" rx="2.55" ry="3.05" fill="none" stroke="#2c3c9c" stroke-width="1.1"/>
<ellipse cx="498.91" cy="510.89" rx="2.55" ry="3.05" fill="none" stroke="#2c3c9c" stroke-width="1.1"/>
<ellipse cx="508.27" cy="491.38" rx="2.55" ry="3.05" fill="none" stroke="#2c3c9c" stroke-width="1.1"/>
<text class="nm" style="font-size:24.6px" x="510.3" y="815.3" text-anchor="end">Lohmann</text>
</g>
<g id="panelC">
<text class="pl" transform="translate(537.7,471) scale(1.0,1)">C</text>
<rect x="588.6" y="460.6" width="427" height="359.4" fill="none" stroke="#999999" stroke-width="1.6"/>
<line x1="583.4" x2="588.6" y1="813.66" y2="813.66" stroke="#999999" stroke-width="1.4"/>
<text class="tk" transform="translate(580.1,818.86) scale(0.745,1)" text-anchor="end">200</text>
<line x1="583.4" x2="588.6" y1="734.92" y2="734.92" stroke="#999999" stroke-width="1.4"/>
<text class="tk" transform="translate(580.1,740.12) scale(0.745,1)" text-anchor="end">400</text>
<line x1="583.4" x2="588.6" y1="656.18" y2="656.18" stroke="#999999" stroke-width="1.4"/>
<text class="tk" transform="translate(580.1,661.38) scale(0.745,1)" text-anchor="end">600</text>
<line x1="583.4" x2="588.6" y1="577.44" y2="577.44" stroke="#999999" stroke-width="1.4"/>
<text class="tk" transform="translate(580.1,582.64) scale(0.745,1)" text-anchor="end">800</text>
<line x1="583.4" x2="588.6" y1="498.7" y2="498.7" stroke="#999999" stroke-width="1.4"/>
<text class="tk" transform="translate(580.1,503.9) scale(0.745,1)" text-anchor="end">1000</text>
<line x1="633.6" x2="633.6" y1="820" y2="825.6" stroke="#999999" stroke-width="1.4"/>
<text class="tk" transform="translate(633.6,842.9) scale(0.745,1)" text-anchor="middle">20</text>
<line x1="727.1" x2="727.1" y1="820" y2="825.6" stroke="#999999" stroke-width="1.4"/>
<text class="tk" transform="translate(727.1,842.9) scale(0.745,1)" text-anchor="middle">40</text>
<line x1="820.6" x2="820.6" y1="820" y2="825.6" stroke="#999999" stroke-width="1.4"/>
<text class="tk" transform="translate(820.6,842.9) scale(0.745,1)" text-anchor="middle">60</text>
<line x1="914.1" x2="914.1" y1="820" y2="825.6" stroke="#999999" stroke-width="1.4"/>
<text class="tk" transform="translate(914.1,842.9) scale(0.745,1)" text-anchor="middle">80</text>
<line x1="1007.6" x2="1007.6" y1="820" y2="825.6" stroke="#999999" stroke-width="1.4"/>
<text class="tk" transform="translate(1007.6,842.9) scale(0.745,1)" text-anchor="middle">100</text>
<text class="tk" style="font-size:13px" transform="translate(802.1,866.2) scale(0.88,1)" text-anchor="middle">Age</text>
<text class="tk" style="font-size:14.4px" transform="translate(544.3,640.5) rotate(-90) scale(1,0.76)" text-anchor="middle">Predicted</text>
<path d="M596.2 727.83V802.64M605.55 657.36V699.09M614.9 588.07V618.38M624.25 535.71V562.09M628.93 508.15V535.71M633.6 502.24V529.01M642.95 494.37V523.9M652.3 501.06V525.08M661.65 502.64V531.77M671 504.21V534.53M680.35 503.03V533.35M689.7 494.37V518.38M699.05 479.8V509.33M708.4 502.64V532.95M717.75 541.22V572.72M727.1 547.91V574.68M736.45 547.13V584.13M745.8 520.35V550.27M750.48 502.64V531.77M755.15 507.36V531.77M759.83 507.36V537.28M764.5 516.02V543.19M769.17 521.53V552.64M773.85 521.93V550.27M783.2 518.38V549.09M792.55 498.31V529.8M801.9 491.22V516.81M820.6 467.99V501.46M839.3 480.2V512.48M858 483.74V515.63M876.7 493.19V516.02M895.4 494.76V524.29M904.75 515.63V545.55M914.1 543.58V569.57M923.45 566.42V598.7M932.8 583.35V619.57M942.15 603.82V640.83M951.5 595.55V625.47M960.85 582.56V614.45M970.2 549.09V579.8M979.55 526.65V552.64M988.9 502.24V527.83M998.25 489.64V517.6M1007.6 479.8V524.68" stroke="#a83a28" stroke-width="1.7" fill="none"/>
<path d="M591 727.83H601.4M591 802.64H601.4M600.35 657.36H610.75M600.35 699.09H610.75M609.7 588.07H620.1M609.7 618.38H620.1M619.05 535.71H629.45M619.05 562.09H629.45M623.73 508.15H634.13M623.73 535.71H634.13M628.4 502.24H638.8M628.4 529.01H638.8M637.75 494.37H648.15M637.75 523.9H648.15M647.1 501.06H657.5M647.1 525.08H657.5M656.45 502.64H666.85M656.45 531.77H666.85M665.8 504.21H676.2M665.8 534.53H676.2M675.15 503.03H685.55M675.15 533.35H685.55M684.5 494.37H694.9M684.5 518.38H694.9M693.85 479.8H704.25M693.85 509.33H704.25M703.2 502.64H713.6M703.2 532.95H713.6M712.55 541.22H722.95M712.55 572.72H722.95M721.9 547.91H732.3M721.9 574.68H732.3M731.25 547.13H741.65M731.25 584.13H741.65M740.6 520.35H751M740.6 550.27H751M745.27 502.64H755.68M745.27 531.77H755.68M749.95 507.36H760.35M749.95 531.77H760.35M754.62 507.36H765.03M754.62 537.28H765.03M759.3 516.02H769.7M759.3 543.19H769.7M763.97 521.53H774.38M763.97 552.64H774.38M768.65 521.93H779.05M768.65 550.27H779.05M778 518.38H788.4M778 549.09H788.4M787.35 498.31H797.75M787.35 529.8H797.75M796.7 491.22H807.1M796.7 516.81H807.1M815.4 467.99H825.8M815.4 501.46H825.8M834.1 480.2H844.5M834.1 512.48H844.5M852.8 483.74H863.2M852.8 515.63H863.2M871.5 493.19H881.9M871.5 516.02H881.9M890.2 494.76H900.6M890.2 524.29H900.6M899.55 515.63H909.95M899.55 545.55H909.95M908.9 543.58H919.3M908.9 569.57H919.3M918.25 566.42H928.65M918.25 598.7H928.65M927.6 583.35H938M927.6 619.57H938M936.95 603.82H947.35M936.95 640.83H947.35M946.3 595.55H956.7M946.3 625.47H956.7M955.65 582.56H966.05M955.65 614.45H966.05M965 549.09H975.4M965 579.8H975.4M974.35 526.65H984.75M974.35 552.64H984.75M983.7 502.24H994.1M983.7 527.83H994.1M993.05 489.64H1003.45M993.05 517.6H1003.45M1002.4 479.8H1012.8M1002.4 524.68H1012.8" stroke="#a02a1c" stroke-width="1.9" fill="none"/>
<ellipse cx="596.2" cy="765.23" rx="2.55" ry="3.05" fill="none" stroke="#2c3c9c" stroke-width="1.1"/>
<ellipse cx="605.55" cy="678.23" rx="2.55" ry="3.05" fill="none" stroke="#2c3c9c" stroke-width="1.1"/>
<ellipse cx="614.9" cy="603.03" rx="2.55" ry="3.05" fill="none" stroke="#2c3c9c" stroke-width="1.1"/>
<ellipse cx="624.25" cy="549.49" rx="2.55" ry="3.05" fill="none" stroke="#2c3c9c" stroke-width="1.1"/>
<ellipse cx="628.93" cy="522.72" rx="2.55" ry="3.05" fill="none" stroke="#2c3c9c" stroke-width="1.1"/>
<ellipse cx="633.6" cy="516.02" rx="2.55" ry="3.05" fill="none" stroke="#2c3c9c" stroke-width="1.1"/>
<ellipse cx="642.95" cy="508.94" rx="2.55" ry="3.05" fill="none" stroke="#2c3c9c" stroke-width="1.1"/>
<ellipse cx="652.3" cy="512.87" rx="2.55" ry="3.05" fill="none" stroke="#2c3c9c" stroke-width="1.1"/>
<ellipse cx="661.65" cy="517.6" rx="2.55" ry="3.05" fill="none" stroke="#2c3c9c" stroke-width="1.1"/>
<ellipse cx="671" cy="519.57" rx="2.55" ry="3.05" fill="none" stroke="#2c3c9c" stroke-width="1.1"/>
<ellipse cx="680.35" cy="518.78" rx="2.55" ry="3.05" fill="none" stroke="#2c3c9c" stroke-width="1.1"/>
<ellipse cx="689.7" cy="506.57" rx="2.55" ry="3.05" fill="none" stroke="#2c3c9c" stroke-width="1.1"/>
<ellipse cx="699.05" cy="494.76" rx="2.55" ry="3.05" fill="none" stroke="#2c3c9c" stroke-width="1.1"/>
<ellipse cx="708.4" cy="517.99" rx="2.55" ry="3.05" fill="none" stroke="#2c3c9c" stroke-width="1.1"/>
<ellipse cx="717.75" cy="556.97" rx="2.55" ry="3.05" fill="none" stroke="#2c3c9c" stroke-width="1.1"/>
<ellipse cx="727.1" cy="561.3" rx="2.55" ry="3.05" fill="none" stroke="#2c3c9c" stroke-width="1.1"/>
<ellipse cx="736.45" cy="566.42" rx="2.55" ry="3.05" fill="none" stroke="#2c3c9c" stroke-width="1.1"/>
<ellipse cx="745.8" cy="535.71" rx="2.55" ry="3.05" fill="none" stroke="#2c3c9c" stroke-width="1.1"/>
<ellipse cx="750.48" cy="517.6" rx="2.55" ry="3.05" fill="none" stroke="#2c3c9c" stroke-width="1.1"/>
<ellipse cx="755.15" cy="519.96" rx="2.55" ry="3.05" fill="none" stroke="#2c3c9c" stroke-width="1.1"/>
<ellipse cx="759.83" cy="522.72" rx="2.55" ry="3.05" fill="none" stroke="#2c3c9c" stroke-width="1.1"/>
<ellipse cx="764.5" cy="529.8" rx="2.55" ry="3.05" fill="none" stroke="#2c3c9c" stroke-width="1.1"/>
<ellipse cx="769.17" cy="537.28" rx="2.55" ry="3.05" fill="none" stroke="#2c3c9c" stroke-width="1.1"/>
<ellipse cx="773.85" cy="536.1" rx="2.55" ry="3.05" fill="none" stroke="#2c3c9c" stroke-width="1.1"/>
<ellipse cx="783.2" cy="534.53" rx="2.55" ry="3.05" fill="none" stroke="#2c3c9c" stroke-width="1.1"/>
<ellipse cx="792.55" cy="514.45" rx="2.55" ry="3.05" fill="none" stroke="#2c3c9c" stroke-width="1.1"/>
<ellipse cx="801.9" cy="503.82" rx="2.55" ry="3.05" fill="none" stroke="#2c3c9c" stroke-width="1.1"/>
<ellipse cx="820.6" cy="484.92" rx="2.55" ry="3.05" fill="none" stroke="#2c3c9c" stroke-width="1.1"/>
<ellipse cx="839.3" cy="496.73" rx="2.55" ry="3.05" fill="none" stroke="#2c3c9c" stroke-width="1.1"/>
<ellipse cx="858" cy="499.49" rx="2.55" ry="3.05" fill="none" stroke="#2c3c9c" stroke-width="1.1"/>
<ellipse cx="876.7" cy="504.61" rx="2.55" ry="3.05" fill="none" stroke="#2c3c9c" stroke-width="1.1"/>
<ellipse cx="895.4" cy="509.72" rx="2.55" ry="3.05" fill="none" stroke="#2c3c9c" stroke-width="1.1"/>
<ellipse cx="904.75" cy="530.2" rx="2.55" ry="3.05" fill="none" stroke="#2c3c9c" stroke-width="1.1"/>
<ellipse cx="914.1" cy="556.18" rx="2.55" ry="3.05" fill="none" stroke="#2c3c9c" stroke-width="1.1"/>
<ellipse cx="923.45" cy="582.56" rx="2.55" ry="3.05" fill="none" stroke="#2c3c9c" stroke-width="1.1"/>
<ellipse cx="932.8" cy="601.06" rx="2.55" ry="3.05" fill="none" stroke="#2c3c9c" stroke-width="1.1"/>
<ellipse cx="942.15" cy="622.32" rx="2.55" ry="3.05" fill="none" stroke="#2c3c9c" stroke-width="1.1"/>
<ellipse cx="951.5" cy="610.51" rx="2.55" ry="3.05" fill="none" stroke="#2c3c9c" stroke-width="1.1"/>
<ellipse cx="960.85" cy="598.7" rx="2.55" ry="3.05" fill="none" stroke="#2c3c9c" stroke-width="1.1"/>
<ellipse cx="970.2" cy="564.05" rx="2.55" ry="3.05" fill="none" stroke="#2c3c9c" stroke-width="1.1"/>
<ellipse cx="979.55" cy="539.64" rx="2.55" ry="3.05" fill="none" stroke="#2c3c9c" stroke-width="1.1"/>
<ellipse cx="988.9" cy="515.24" rx="2.55" ry="3.05" fill="none" stroke="#2c3c9c" stroke-width="1.1"/>
<ellipse cx="998.25" cy="503.82" rx="2.55" ry="3.05" fill="none" stroke="#2c3c9c" stroke-width="1.1"/>
<ellipse cx="1007.6" cy="502.24" rx="2.55" ry="3.05" fill="none" stroke="#2c3c9c" stroke-width="1.1"/>
<text class="nm" style="font-size:25.2px" x="1005.8" y="815.3" text-anchor="end">Shaver</text>
</g>
<g id="panelD">
<text class="pl" transform="translate(1028.4,471) scale(1.0,1)">D</text>
<rect x="1085.5" y="460.6" width="427.5" height="359.4" fill="none" stroke="#999999" stroke-width="1.6"/>
<line x1="1080.3" x2="1085.5" y1="761.5" y2="761.5" stroke="#999999" stroke-width="1.4"/>
<text class="tk" transform="translate(1077,766.7) scale(0.745,1)" text-anchor="end">400</text>
<line x1="1080.3" x2="1085.5" y1="663.6" y2="663.6" stroke="#999999" stroke-width="1.4"/>
<text class="tk" transform="translate(1077,668.8) scale(0.745,1)" text-anchor="end">600</text>
<line x1="1080.3" x2="1085.5" y1="565.7" y2="565.7" stroke="#999999" stroke-width="1.4"/>
<text class="tk" transform="translate(1077,570.9) scale(0.745,1)" text-anchor="end">800</text>
<line x1="1080.3" x2="1085.5" y1="467.8" y2="467.8" stroke="#999999" stroke-width="1.4"/>
<text class="tk" transform="translate(1077,473) scale(0.745,1)" text-anchor="end">1000</text>
<line x1="1130.6" x2="1130.6" y1="820" y2="825.6" stroke="#999999" stroke-width="1.4"/>
<text class="tk" transform="translate(1130.6,842.9) scale(0.745,1)" text-anchor="middle">20</text>
<line x1="1224.24" x2="1224.24" y1="820" y2="825.6" stroke="#999999" stroke-width="1.4"/>
<text class="tk" transform="translate(1224.24,842.9) scale(0.745,1)" text-anchor="middle">40</text>
<line x1="1317.88" x2="1317.88" y1="820" y2="825.6" stroke="#999999" stroke-width="1.4"/>
<text class="tk" transform="translate(1317.88,842.9) scale(0.745,1)" text-anchor="middle">60</text>
<line x1="1411.52" x2="1411.52" y1="820" y2="825.6" stroke="#999999" stroke-width="1.4"/>
<text class="tk" transform="translate(1411.52,842.9) scale(0.745,1)" text-anchor="middle">80</text>
<line x1="1505.16" x2="1505.16" y1="820" y2="825.6" stroke="#999999" stroke-width="1.4"/>
<text class="tk" transform="translate(1505.16,842.9) scale(0.745,1)" text-anchor="middle">100</text>
<text class="tk" style="font-size:13px" transform="translate(1299.25,866.2) scale(0.88,1)" text-anchor="middle">Age</text>
<text class="tk" style="font-size:14.4px" transform="translate(1040.5,640.5) rotate(-90) scale(1,0.76)" text-anchor="middle">Predicted</text>
<path d="M1093.14 734.09V812.41M1102.51 728.21V770.8M1111.87 675.84V713.04M1121.24 581.36V608.29M1125.92 531.44V558.85M1130.6 492.76V519.2M1135.28 485.42V510.39M1139.96 483.95V513.81M1149.33 544.16V570.11M1158.69 597.03V633.25M1168.06 588.71V621.5M1177.42 573.53V606.82M1186.78 566.68V599.48M1196.15 582.34V609.27M1205.51 591.15V624.93M1214.88 613.18V646.96M1224.24 629.34V667.03M1233.6 608.29V634.72M1242.97 578.92V610.24M1247.65 554.44V585.77M1252.33 548.08V576.96M1257.01 547.1V578.43M1261.7 562.76V589.69M1266.38 573.04V606.33M1271.06 578.92V611.71M1280.42 571.57V597.52M1289.79 557.38V590.66M1299.15 551.5V585.77M1317.88 548.08V584.79M1336.61 533.39V567.66M1355.34 537.31V563.74M1374.06 534.37V566.19M1392.79 563.74V591.64M1402.16 575.49V606.82M1411.52 589.69V622.48M1420.88 614.16V644.02M1430.25 633.74V668.98M1439.61 646.96V680.73M1448.98 655.77V695.91M1458.34 641.57V674.86M1467.7 622.97V657.73M1477.07 603.39V635.7M1486.43 580.38V608.29M1495.8 553.46V585.77M1505.16 516.75V566.19" stroke="#a83a28" stroke-width="1.7" fill="none"/>
<path d="M1087.94 734.09H1098.34M1087.94 812.41H1098.34M1097.31 728.21H1107.71M1097.31 770.8H1107.71M1106.67 675.84H1117.07M1106.67 713.04H1117.07M1116.04 581.36H1126.44M1116.04 608.29H1126.44M1120.72 531.44H1131.12M1120.72 558.85H1131.12M1125.4 492.76H1135.8M1125.4 519.2H1135.8M1130.08 485.42H1140.48M1130.08 510.39H1140.48M1134.76 483.95H1145.16M1134.76 513.81H1145.16M1144.13 544.16H1154.53M1144.13 570.11H1154.53M1153.49 597.03H1163.89M1153.49 633.25H1163.89M1162.86 588.71H1173.26M1162.86 621.5H1173.26M1172.22 573.53H1182.62M1172.22 606.82H1182.62M1181.58 566.68H1191.98M1181.58 599.48H1191.98M1190.95 582.34H1201.35M1190.95 609.27H1201.35M1200.31 591.15H1210.71M1200.31 624.93H1210.71M1209.68 613.18H1220.08M1209.68 646.96H1220.08M1219.04 629.34H1229.44M1219.04 667.03H1229.44M1228.4 608.29H1238.8M1228.4 634.72H1238.8M1237.77 578.92H1248.17M1237.77 610.24H1248.17M1242.45 554.44H1252.85M1242.45 585.77H1252.85M1247.13 548.08H1257.53M1247.13 576.96H1257.53M1251.81 547.1H1262.21M1251.81 578.43H1262.21M1256.5 562.76H1266.9M1256.5 589.69H1266.9M1261.18 573.04H1271.58M1261.18 606.33H1271.58M1265.86 578.92H1276.26M1265.86 611.71H1276.26M1275.22 571.57H1285.62M1275.22 597.52H1285.62M1284.59 557.38H1294.99M1284.59 590.66H1294.99M1293.95 551.5H1304.35M1293.95 585.77H1304.35M1312.68 548.08H1323.08M1312.68 584.79H1323.08M1331.41 533.39H1341.81M1331.41 567.66H1341.81M1350.14 537.31H1360.54M1350.14 563.74H1360.54M1368.86 534.37H1379.26M1368.86 566.19H1379.26M1387.59 563.74H1397.99M1387.59 591.64H1397.99M1396.96 575.49H1407.36M1396.96 606.82H1407.36M1406.32 589.69H1416.72M1406.32 622.48H1416.72M1415.68 614.16H1426.08M1415.68 644.02H1426.08M1425.05 633.74H1435.45M1425.05 668.98H1435.45M1434.41 646.96H1444.81M1434.41 680.73H1444.81M1443.78 655.77H1454.18M1443.78 695.91H1454.18M1453.14 641.57H1463.54M1453.14 674.86H1463.54M1462.5 622.97H1472.9M1462.5 657.73H1472.9M1471.87 603.39H1482.27M1471.87 635.7H1482.27M1481.23 580.38H1491.63M1481.23 608.29H1491.63M1490.6 553.46H1501M1490.6 585.77H1501M1499.96 516.75H1510.36M1499.96 566.19H1510.36" stroke="#a02a1c" stroke-width="1.9" fill="none"/>
<ellipse cx="1093.14" cy="773.25" rx="2.55" ry="3.05" fill="none" stroke="#2c3c9c" stroke-width="1.1"/>
<ellipse cx="1102.51" cy="749.75" rx="2.55" ry="3.05" fill="none" stroke="#2c3c9c" stroke-width="1.1"/>
<ellipse cx="1111.87" cy="694.44" rx="2.55" ry="3.05" fill="none" stroke="#2c3c9c" stroke-width="1.1"/>
<ellipse cx="1121.24" cy="595.07" rx="2.55" ry="3.05" fill="none" stroke="#2c3c9c" stroke-width="1.1"/>
<ellipse cx="1125.92" cy="545.14" rx="2.55" ry="3.05" fill="none" stroke="#2c3c9c" stroke-width="1.1"/>
<ellipse cx="1130.6" cy="505.98" rx="2.55" ry="3.05" fill="none" stroke="#2c3c9c" stroke-width="1.1"/>
<ellipse cx="1135.28" cy="498.15" rx="2.55" ry="3.05" fill="none" stroke="#2c3c9c" stroke-width="1.1"/>
<ellipse cx="1139.96" cy="498.64" rx="2.55" ry="3.05" fill="none" stroke="#2c3c9c" stroke-width="1.1"/>
<ellipse cx="1149.33" cy="557.38" rx="2.55" ry="3.05" fill="none" stroke="#2c3c9c" stroke-width="1.1"/>
<ellipse cx="1158.69" cy="615.14" rx="2.55" ry="3.05" fill="none" stroke="#2c3c9c" stroke-width="1.1"/>
<ellipse cx="1168.06" cy="605.35" rx="2.55" ry="3.05" fill="none" stroke="#2c3c9c" stroke-width="1.1"/>
<ellipse cx="1177.42" cy="589.69" rx="2.55" ry="3.05" fill="none" stroke="#2c3c9c" stroke-width="1.1"/>
<ellipse cx="1186.78" cy="582.83" rx="2.55" ry="3.05" fill="none" stroke="#2c3c9c" stroke-width="1.1"/>
<ellipse cx="1196.15" cy="596.05" rx="2.55" ry="3.05" fill="none" stroke="#2c3c9c" stroke-width="1.1"/>
<ellipse cx="1205.51" cy="608.29" rx="2.55" ry="3.05" fill="none" stroke="#2c3c9c" stroke-width="1.1"/>
<ellipse cx="1214.88" cy="630.31" rx="2.55" ry="3.05" fill="none" stroke="#2c3c9c" stroke-width="1.1"/>
<ellipse cx="1224.24" cy="648.43" rx="2.55" ry="3.05" fill="none" stroke="#2c3c9c" stroke-width="1.1"/>
<ellipse cx="1233.6" cy="621.01" rx="2.55" ry="3.05" fill="none" stroke="#2c3c9c" stroke-width="1.1"/>
<ellipse cx="1242.97" cy="594.58" rx="2.55" ry="3.05" fill="none" stroke="#2c3c9c" stroke-width="1.1"/>
<ellipse cx="1247.65" cy="570.11" rx="2.55" ry="3.05" fill="none" stroke="#2c3c9c" stroke-width="1.1"/>
<ellipse cx="1252.33" cy="562.76" rx="2.55" ry="3.05" fill="none" stroke="#2c3c9c" stroke-width="1.1"/>
<ellipse cx="1257.01" cy="562.76" rx="2.55" ry="3.05" fill="none" stroke="#2c3c9c" stroke-width="1.1"/>
<ellipse cx="1261.7" cy="575.49" rx="2.55" ry="3.05" fill="none" stroke="#2c3c9c" stroke-width="1.1"/>
<ellipse cx="1266.38" cy="589.69" rx="2.55" ry="3.05" fill="none" stroke="#2c3c9c" stroke-width="1.1"/>
<ellipse cx="1271.06" cy="595.56" rx="2.55" ry="3.05" fill="none" stroke="#2c3c9c" stroke-width="1.1"/>
<ellipse cx="1280.42" cy="584.79" rx="2.55" ry="3.05" fill="none" stroke="#2c3c9c" stroke-width="1.1"/>
<ellipse cx="1289.79" cy="574.02" rx="2.55" ry="3.05" fill="none" stroke="#2c3c9c" stroke-width="1.1"/>
<ellipse cx="1299.15" cy="568.64" rx="2.55" ry="3.05" fill="none" stroke="#2c3c9c" stroke-width="1.1"/>
<ellipse cx="1317.88" cy="566.68" rx="2.55" ry="3.05" fill="none" stroke="#2c3c9c" stroke-width="1.1"/>
<ellipse cx="1336.61" cy="550.53" rx="2.55" ry="3.05" fill="none" stroke="#2c3c9c" stroke-width="1.1"/>
<ellipse cx="1355.34" cy="550.53" rx="2.55" ry="3.05" fill="none" stroke="#2c3c9c" stroke-width="1.1"/>
<ellipse cx="1374.06" cy="550.04" rx="2.55" ry="3.05" fill="none" stroke="#2c3c9c" stroke-width="1.1"/>
<ellipse cx="1392.79" cy="577.45" rx="2.55" ry="3.05" fill="none" stroke="#2c3c9c" stroke-width="1.1"/>
<ellipse cx="1402.16" cy="591.15" rx="2.55" ry="3.05" fill="none" stroke="#2c3c9c" stroke-width="1.1"/>
<ellipse cx="1411.52" cy="606.33" rx="2.55" ry="3.05" fill="none" stroke="#2c3c9c" stroke-width="1.1"/>
<ellipse cx="1420.88" cy="628.85" rx="2.55" ry="3.05" fill="none" stroke="#2c3c9c" stroke-width="1.1"/>
<ellipse cx="1430.25" cy="651.36" rx="2.55" ry="3.05" fill="none" stroke="#2c3c9c" stroke-width="1.1"/>
<ellipse cx="1439.61" cy="664.09" rx="2.55" ry="3.05" fill="none" stroke="#2c3c9c" stroke-width="1.1"/>
<ellipse cx="1448.98" cy="675.84" rx="2.55" ry="3.05" fill="none" stroke="#2c3c9c" stroke-width="1.1"/>
<ellipse cx="1458.34" cy="658.71" rx="2.55" ry="3.05" fill="none" stroke="#2c3c9c" stroke-width="1.1"/>
<ellipse cx="1467.7" cy="640.1" rx="2.55" ry="3.05" fill="none" stroke="#2c3c9c" stroke-width="1.1"/>
<ellipse cx="1477.07" cy="619.55" rx="2.55" ry="3.05" fill="none" stroke="#2c3c9c" stroke-width="1.1"/>
<ellipse cx="1486.43" cy="594.58" rx="2.55" ry="3.05" fill="none" stroke="#2c3c9c" stroke-width="1.1"/>
<ellipse cx="1495.8" cy="570.11" rx="2.55" ry="3.05" fill="none" stroke="#2c3c9c" stroke-width="1.1"/>
<ellipse cx="1505.16" cy="540.74" rx="2.55" ry="3.05" fill="none" stroke="#2c3c9c" stroke-width="1.1"/>
<text class="nm" style="font-size:25.2px" x="1507.6" y="815.3" text-anchor="end">Smoky Joe</text>
</g>
</svg>
</body>
</html>
